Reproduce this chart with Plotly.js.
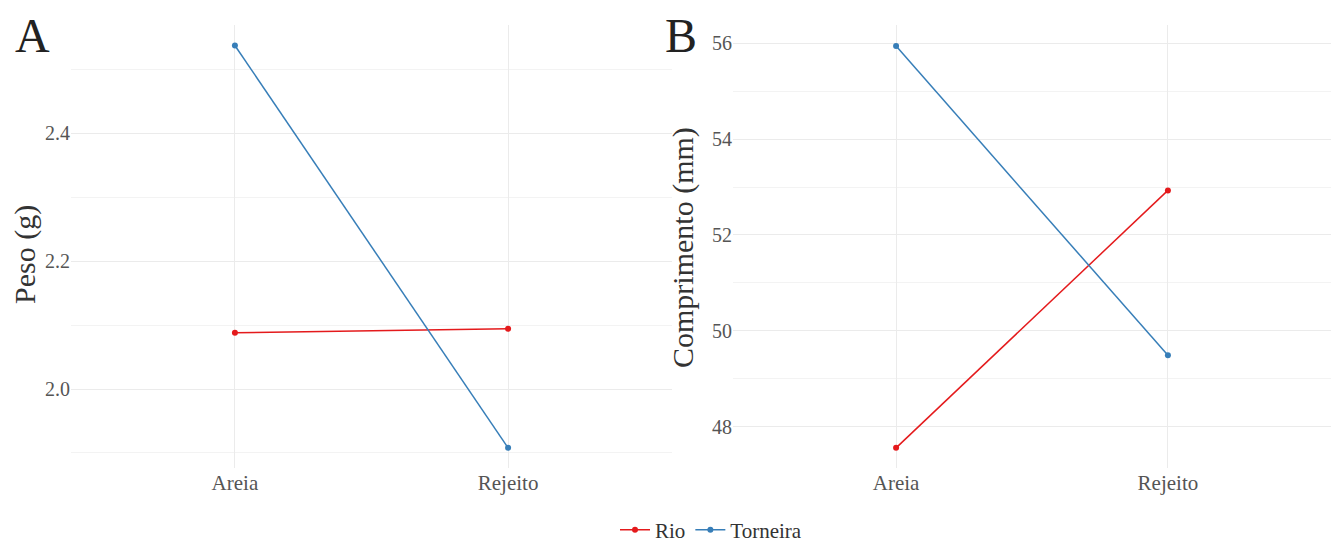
<!DOCTYPE html>
<html>
<head>
<meta charset="utf-8">
<script src="https://cdn.plot.ly/plotly-3.0.1.min.js"></script>
<style>html,body{margin:0;padding:0;background:#fff;}#chart{width:1340px;height:546px;}</style>
</head>
<body>
<div id="chart"></div>
<script>
const categories = ["Areia", "Rejeito"];
const seriesNames = ["Rio", "Torneira"];
const pesoRio = [2.088, 2.094];
const pesoTorneira = [2.537, 1.908];
const comprimentoRio = [47.56, 52.93];
const comprimentoTorneira = [55.94, 49.49];
const colors = {Rio: "#E41A1C", Torneira: "#377EB8"};
const FONT = '"Liberation Serif", "Times New Roman", serif';

function tr(name, y, xa, ya, show) {
  return {
    x: categories, y: y, name: name, xaxis: xa, yaxis: ya,
    type: "scatter", mode: "lines+markers", showlegend: show, legendgroup: name,
    line: {color: colors[name], width: 1.5},
    marker: {color: colors[name], size: 6}
  };
}
const data = [
  tr("Rio", pesoRio, "x", "y", true),
  tr("Torneira", pesoTorneira, "x", "y", true),
  tr("Rio", comprimentoRio, "x2", "y2", false),
  tr("Torneira", comprimentoTorneira, "x2", "y2", false)
];
const grid = "#ebebeb";
function xa(domain, anchor) {
  return {domain: domain, anchor: anchor, type: "category", range: [-0.6, 1.6],
    showgrid: true, gridcolor: grid, gridwidth: 1, zeroline: false, showline: false,
    ticks: "", tickfont: {family: FONT, size: 21, color: "#555"}, fixedrange: true};
}
function ya(anchor, range, dtick, minor) {
  return {anchor: anchor, domain: [0, 1], range: range, dtick: dtick, tick0: 0,
    showgrid: true, gridcolor: grid, gridwidth: 1, zeroline: false, showline: false,
    ticks: "", tickformat: dtick < 1 ? ".1f" : "d",
    minor: {dtick: minor, tick0: 0, showgrid: true, gridcolor: "#f3f3f3", gridwidth: 1},
    tickfont: {family: FONT, size: 20, color: "#555"}, fixedrange: true};
}
const layout = {
  width: 1340, height: 546,
  margin: {l: 0, r: 0, t: 25, b: 78},
  paper_bgcolor: "#fff", plot_bgcolor: "#fff",
  font: {family: FONT, color: "#333"},
  xaxis: xa([71/1340, 672/1340], "y"),
  yaxis: ya("x", [1.8765, 2.569], 0.2, 0.1),
  xaxis2: xa([733/1340, 1331/1340], "y2"),
  yaxis2: ya("x2", [47.14, 56.38], 2, 1),
  showlegend: true,
  legend: {orientation: "h", xref: "container", yref: "container",
    x: 711/1340, xanchor: "center", y: 16/546, yanchor: "middle",
    font: {family: FONT, size: 21, color: "#333"}, itemwidth: 30, bgcolor: "rgba(0,0,0,0)"},
  annotations: [
    {text: "A", xref: "paper", yref: "paper", x: 13/1340, y: 1, xanchor: "left", yanchor: "top", yshift: 18,
      showarrow: false, font: {family: FONT, size: 48, color: "#222"}},
    {text: "B", xref: "paper", yref: "paper", x: 663/1340, y: 1, xanchor: "left", yanchor: "top", yshift: 18,
      showarrow: false, font: {family: FONT, size: 48, color: "#222"}},
    {text: "Peso (g)", xref: "paper", yref: "paper", x: 25/1340, y: (546 - 78 - 254) / 443, xanchor: "center", yanchor: "middle",
      textangle: -90, showarrow: false, font: {family: FONT, size: 30, color: "#333"}},
    {text: "Comprimento (mm)", xref: "paper", yref: "paper", x: 683/1340, y: (546 - 78 - 248) / 443, xanchor: "center", yanchor: "middle",
      textangle: -90, showarrow: false, font: {family: FONT, size: 30, color: "#333"}}
  ]
};
Plotly.newPlot("chart", data, layout, {displayModeBar: false, staticPlot: true});
</script>
</body>
</html>
